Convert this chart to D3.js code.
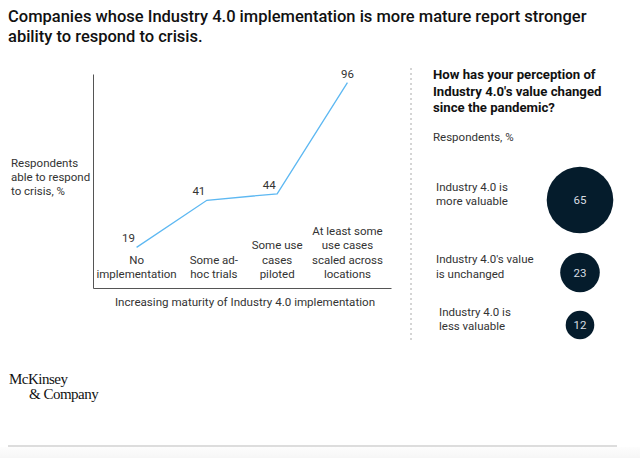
<!DOCTYPE html>
<html>
<head>
<meta charset="utf-8">
<script src="https://cdn.jsdelivr.net/npm/d3@7"></script>
<style>
  body { margin: 0; background: #fff; }
  text { font-family: Roboto, "Liberation Sans", sans-serif; fill: #333; }
</style>
</head>
<body>
<div id="chart"></div>
<script>
// line chart data
var stages = ["No implementation", "Some ad-hoc trials", "Some use cases piloted", "At least some use cases scaled across locations"];
var stageLines = [["No", "implementation"], ["Some ad-", "hoc trials"], ["Some use", "cases", "piloted"], ["At least some", "use cases", "scaled across", "locations"]];
var ableToRespond = [19, 41, 44, 96];

// bubble data
var perceptions = ["more", "unchanged", "less"];
var perceptionLines = [["Industry 4.0 is", "more valuable"], ["Industry 4.0's value", "is unchanged"], ["Industry 4.0 is", "less valuable"]];
var perceptionShare = [65, 23, 12];

var svgWidth = 640;
var svgHeight = 458;

var svg = d3.select("#chart")
  .append("svg")
  .attr("width", svgWidth)
  .attr("height", svgHeight);

// footer background
var grad = svg.append("defs").append("linearGradient")
  .attr("id", "foot").attr("x1", 0).attr("x2", 0).attr("y1", 0).attr("y2", 1);
grad.append("stop").attr("offset", "0%").attr("stop-color", "#fdfdfd");
grad.append("stop").attr("offset", "100%").attr("stop-color", "#f6f6f6");
svg.append("rect").attr("x", 0).attr("y", 447).attr("width", svgWidth).attr("height", 11).attr("fill", "url(#foot)");

// title
svg.append("text")
  .attr("x", 8).attr("y", 22)
  .style("font-size", "16.5px").style("font-weight", 500).style("fill", "#111")
  .selectAll("tspan")
  .data(["Companies whose Industry 4.0 implementation is more mature report stronger", "ability to respond to crisis."])
  .enter().append("tspan")
  .attr("x", 8).attr("dy", (d, i) => i ? 20 : 0)
  .text(d => d);

// ---- left: line chart
var margin = {left: 93, right: 249, top: 74, bottom: 170};
var xScale = d3.scalePoint()
  .domain(stages)
  .range([margin.left, svgWidth - margin.right])
  .padding(0.62);
var yScale = d3.scaleLinear()
  .domain([0, 100])
  .range([svgHeight - margin.bottom, margin.top]);

var chartGroup = svg.append("g");

// axes as plain lines (no ticks in reference)
chartGroup.append("g")
  .attr("transform", `translate(${margin.left},0)`)
  .call(d3.axisLeft(yScale).tickValues([]).tickSizeOuter(0))
  .select(".domain").attr("stroke", "#555");
chartGroup.append("g")
  .attr("transform", `translate(0,${yScale(0)})`)
  .call(d3.axisBottom(xScale).tickValues([]).tickSizeOuter(0))
  .select(".domain").attr("stroke", "#555");

var line = d3.line()
  .x((d, i) => xScale(stages[i]))
  .y(d => yScale(d));

chartGroup.append("path")
  .datum(ableToRespond)
  .attr("d", line)
  .attr("fill", "none")
  .attr("stroke", "#5db8f2")
  .attr("stroke-width", 1.3);

// value labels
chartGroup.selectAll(".val")
  .data(ableToRespond)
  .enter().append("text")
  .attr("class", "val")
  .attr("x", (d, i) => xScale(stages[i]) - (i === 3 ? 0 : 8))
  .attr("y", d => yScale(d) - 5)
  .attr("text-anchor", "middle")
  .style("font-size", "11.5px")
  .text(d => d);

// category labels, bottom aligned (second one sits a little right of its point)
stageLines.forEach((lines, i) => {
  var t = chartGroup.append("text")
    .attr("text-anchor", "middle")
    .style("font-size", "11.5px");
  lines.forEach((s, j) => {
    t.append("tspan")
      .attr("x", xScale(stages[i]) + (i === 1 ? 7 : 0))
      .attr("y", 278 - (lines.length - 1 - j) * 14.5)
      .text(s);
  });
});

// x axis title
chartGroup.append("text")
  .attr("x", 245).attr("y", 306)
  .attr("text-anchor", "middle")
  .style("font-size", "11.6px")
  .text("Increasing maturity of Industry 4.0 implementation");

// y axis title
var yt = chartGroup.append("text").style("font-size", "11.5px");
["Respondents", "able to respond", "to crisis, %"].forEach((s, j) => {
  yt.append("tspan").attr("x", 11).attr("y", 167 + j * 14).text(s);
});

// divider
svg.append("line")
  .attr("x1", 411).attr("x2", 411).attr("y1", 68).attr("y2", 340)
  .attr("stroke", "#aaa").attr("stroke-dasharray", "2,3");

// ---- right: bubbles
var rightGroup = svg.append("g");
var q = rightGroup.append("text").style("font-size", "13.2px").style("font-weight", 700).style("fill", "#111");
["How has your perception of", "Industry 4.0's value changed", "since the pandemic?"].forEach((s, j) => {
  q.append("tspan").attr("x", 433).attr("y", 79 + j * 16.5).text(s);
});
rightGroup.append("text")
  .attr("x", 433).attr("y", 141)
  .style("font-size", "11.5px")
  .text("Respondents, %");

var rScale = d3.scaleSqrt().domain([0, 65]).range([0, 33.3]);
var rowY = d3.scaleOrdinal().domain(perceptions).range([200, 272.5, 325]);

rightGroup.selectAll("circle")
  .data(perceptionShare)
  .enter().append("circle")
  .attr("cx", 580)
  .attr("cy", (d, i) => rowY(perceptions[i]))
  .attr("r", d => rScale(d))
  .attr("fill", "#051c2c");

rightGroup.selectAll(".bval")
  .data(perceptionShare)
  .enter().append("text")
  .attr("class", "bval")
  .attr("x", 580)
  .attr("y", (d, i) => rowY(perceptions[i]) + 4)
  .attr("text-anchor", "middle")
  .style("font-size", "11.5px")
  .style("fill", "#d8dde2")
  .text(d => d);

perceptionLines.forEach((lines, i) => {
  var t = rightGroup.append("text").style("font-size", "11.5px");
  lines.forEach((s, j) => {
    t.append("tspan")
      .attr("x", i === 2 ? 439 : 436)
      .attr("y", rowY(perceptions[i]) - 9.5 + j * 14.5)
      .text(s);
  });
});

// logo
var logo = svg.append("text")
  .style("font-family", "'Liberation Serif', 'DejaVu Serif', serif")
  .style("font-size", "15px")
  .style("letter-spacing", "-0.5px")
  .style("fill", "#111");
logo.append("tspan").attr("x", 9).attr("y", 384).text("McKinsey");
logo.append("tspan").attr("x", 29).attr("y", 399).text("& Company");

// bottom rule
svg.append("line")
  .attr("x1", 8).attr("x2", 617).attr("y1", 446).attr("y2", 446)
  .attr("stroke", "#ddd").attr("stroke-width", 2);
</script>
</body>
</html>
